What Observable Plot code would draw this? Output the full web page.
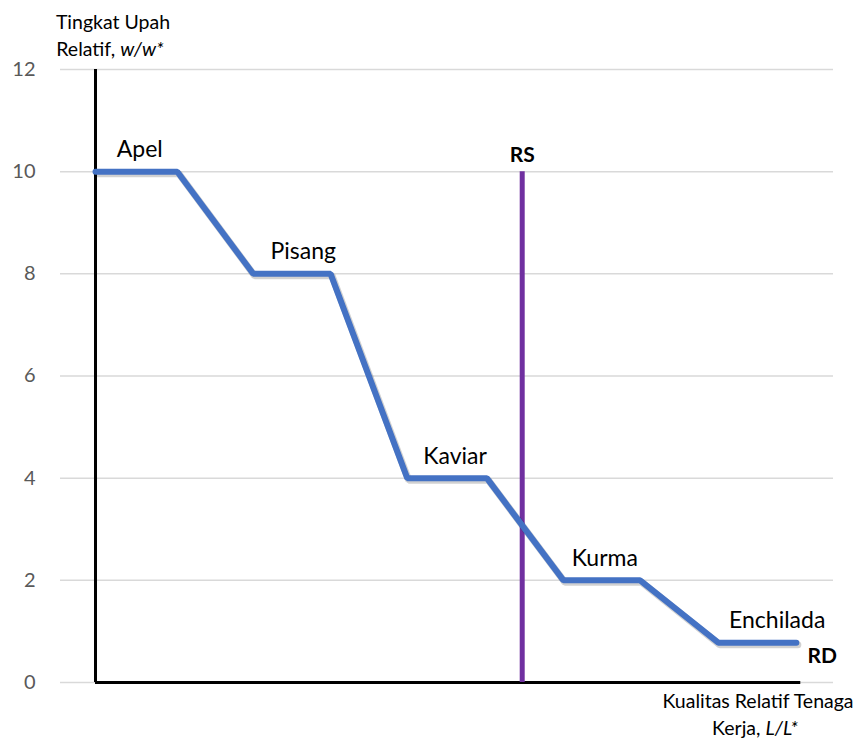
<!DOCTYPE html>
<html>
<head>
<meta charset="utf-8">
<script src="https://cdn.jsdelivr.net/npm/d3@7"></script>
<script src="https://cdn.jsdelivr.net/npm/@observablehq/plot@0.6"></script>
<style>
  html, body { margin: 0; padding: 0; background: #fff; }
  #chart { width: 862px; height: 740px; }
  svg { font-family: Lato, "Open Sans", sans-serif; }
</style>
</head>
<body>
<div id="chart"></div>
<script>
// Relative demand (RD) step curve: relative labour quantity vs relative wage
const rdX = [0, 1.11, 2.14, 3.19, 4.23, 5.31, 6.35, 7.39, 8.45, 9.51];
const rdY = [10, 10, 8, 8, 4, 4, 2, 2, 0.78, 0.78];

// Goods labels sitting on each flat step
const goods = ["Apel", "Pisang", "Kaviar", "Kurma", "Enchilada"];
const goodsX = [0.60, 2.82, 4.88, 6.91, 9.25];
const goodsY = [10, 8, 4, 2, 0.78];

// Relative supply (RS): vertical line
const rsX = 5.79;
const rsTop = 10;

// Axis extent and ticks
const yTicks = [0, 2, 4, 6, 8, 10, 12];
const xAxisEnd = 9.57;

const rdPts = rdX.map((x, i) => ({x, y: rdY[i]}));
const goodsPts = goods.map((name, i) => ({name, x: goodsX[i], y: goodsY[i]}));

const svg = Plot.plot({
  width: 862,
  height: 740,
  marginLeft: 60,
  marginRight: 29,
  marginTop: 69,
  marginBottom: 58,
  x: {domain: [-0.475, 10.014], axis: null},
  y: {domain: [0, 12], axis: null},
  style: {fontFamily: "Lato, 'Open Sans', sans-serif", background: "#fff"},
  marks: [
    Plot.gridY(yTicks, {stroke: "#d9d9d9", strokeOpacity: 1, strokeWidth: 1.5}),
    Plot.axisY(yTicks, {tickSize: 0, tickPadding: 25, fontSize: 20, color: "#595959", label: null, tickFormat: d => String(d)}),
    // y axis line and x axis line
    Plot.ruleX([0], {y1: 0, y2: 12, stroke: "#000", strokeWidth: 3}),
    Plot.ruleY([0], {x1: 0, x2: xAxisEnd, stroke: "#000", strokeWidth: 3}),
    // RS
    Plot.ruleX([rsX], {y1: 0, y2: rsTop, stroke: "#7030a0", strokeWidth: 5}),
    // RD shadow + line
    Plot.line(rdPts, {x: "x", y: "y", stroke: "#000", strokeOpacity: 0.18, strokeWidth: 7, dx: 1.5, dy: 2, strokeLinecap: "round", strokeLinejoin: "miter"}),
    Plot.line(rdPts, {x: "x", y: "y", stroke: "#4472c4", strokeWidth: 6, strokeLinecap: "round", strokeLinejoin: "miter"}),
    // labels
    Plot.text(goodsPts, {x: "x", y: "y", text: "name", dy: -22, fontSize: 23, fill: "#000", textAnchor: "middle", lineAnchor: "middle"}),
    Plot.text([{x: rsX, y: rsTop, t: "RS"}], {x: "x", y: "y", text: "t", dy: -16, fontSize: 21, fontWeight: "bold", fill: "#000", textAnchor: "middle", lineAnchor: "middle"}),
    Plot.text([{x: 9.86, y: rdY[rdY.length - 1], t: "RD"}], {x: "x", y: "y", text: "t", dy: 14, fontSize: 21, fontWeight: "bold", fill: "#000", textAnchor: "middle", lineAnchor: "middle"})
  ]
});

// Axis titles with italic parts
const s = d3.select(svg);
function title(x, y, parts) {
  const t = s.append("text").attr("x", x).attr("y", y)
    .attr("text-anchor", "middle").attr("font-size", 19.5).attr("fill", "#000")
    .style("font-family", "Lato, 'Open Sans', sans-serif");
  parts.forEach(([str, it]) => t.append("tspan").attr("font-style", it ? "italic" : "normal").text(str));
}
title(113, 29, [["Tingkat Upah", false]]);
title(110, 56, [["Relatif, ", false], ["w/w*", true]]);
title(758, 708, [["Kualitas Relatif Tenaga", false]]);
title(755, 735, [["Kerja, ", false], ["L/L*", true]]);

document.getElementById("chart").appendChild(svg);
</script>
</body>
</html>
